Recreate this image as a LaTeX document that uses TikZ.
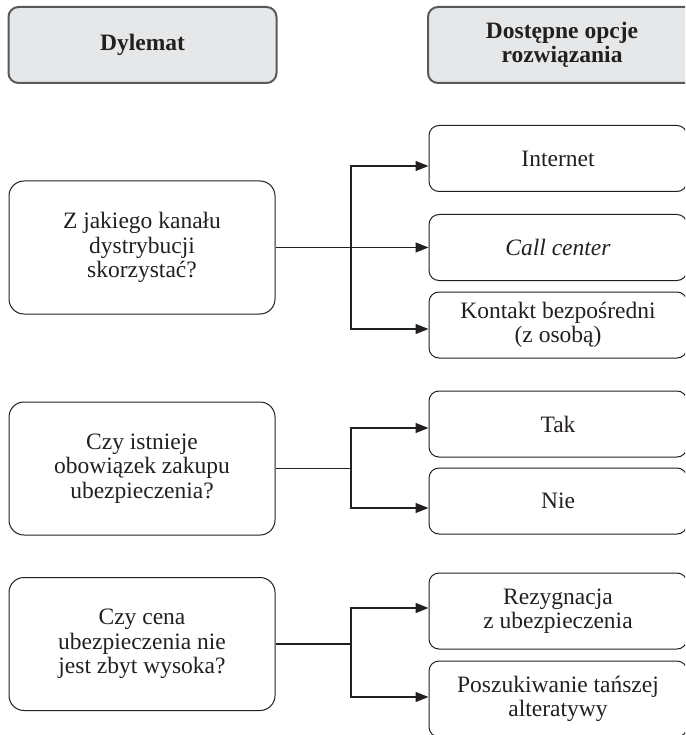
\documentclass[tikz,border=0pt]{standalone}
\usepackage{fontspec}
\setmainfont{Liberation Serif}
\usetikzlibrary{arrows.meta}
\definecolor{hdrgray}{HTML}{E6E7E9}
\definecolor{hdrline}{HTML}{58595B}
\definecolor{ink}{HTML}{231F20}

\begin{document}
\begin{tikzpicture}[x=1pt, y=-1pt,
    every node/.style={text=ink, align=center, inner sep=0pt,
                       font=\fontsize{23.5}{24.5}\selectfont},
    header/.style={draw=hdrline, line width=2pt, fill=hdrgray, rounded corners=10pt,
                   minimum width=268pt, minimum height=76pt,
                   font=\fontsize{23.5}{24}\selectfont\bfseries},
    dilemma/.style={draw=ink, line width=1pt, rounded corners=15pt,
                    minimum width=266pt, minimum height=133pt},
    option/.style={draw=ink, line width=1pt, rounded corners=10pt,
                   minimum width=258pt, minimum height=66pt},
    wire/.style={draw=ink, line width=1.2pt},
    link/.style={wire, -{Triangle[length=13pt,width=10pt]}}]

    \useasboundingbox (0,0) rectangle (685,735);
    \clip (0,0) rectangle (685,735);

    % naglowki
    \node[header] at (142.5, 45) (HdrDilemma) {Dylemat};
    \node[header] at (562,   45) (HdrOptions) {Dostępne opcje\\rozwiązania};

    % dylematy
    \node[dilemma] at (142, 247.5) (Channel)  {Z jakiego kanału\\dystrybucji\\skorzystać?};
    \node[dilemma] at (142, 468.5) (Duty)     {Czy istnieje\\obowiązek zakupu\\ubezpieczenia?};
    \node[dilemma] at (142, 644  ) (Price)    {Czy cena\\ubezpieczenia nie\\jest zbyt wysoka?};

    % opcje
    \node[option] at (558, 158.5) (Internet)  {Internet};
    \node[option] at (558, 247.5) (CallCtr)   {\textit{Call center}};
    \node[option] at (558, 325  ) (Personal)  {Kontakt bezpośredni\\(z osobą)};
    \node[option] at (558, 424  ) (Yes)       {Tak};
    \node[option] at (558, 501  ) (No)        {Nie};
    \node[option, minimum height=76pt] at (558, 611) (Resign)  {Rezygnacja\\z ubezpieczenia};
    \node[option, minimum height=76pt] at (558, 699) (Cheaper) {Poszukiwanie tańszej\\alteratywy};

    \coordinate (ForkA) at (351, 247.5);
    \coordinate (ForkB) at (351, 468.5);
    \coordinate (ForkC) at (351, 644);

    \draw[link] (Channel) -- (CallCtr);
    \draw[link] (ForkA) |- ([yshift=-7.5pt]Internet.west);
    \draw[link] (ForkA) |- ([yshift=-4pt]Personal.west);

    \draw[wire] (Duty) -- (ForkB);
    \draw[link] (ForkB) |- ([yshift=-4pt]Yes.west);
    \draw[link] (ForkB) |- ([yshift=-7pt]No.west);

    \draw[wire] (Price) -- (ForkC);
    \draw[link] (ForkC) |- ([yshift=3pt]Resign.west);
    \draw[link] (ForkC) |- ([yshift=2pt]Cheaper.west);
\end{tikzpicture}
\end{document}
